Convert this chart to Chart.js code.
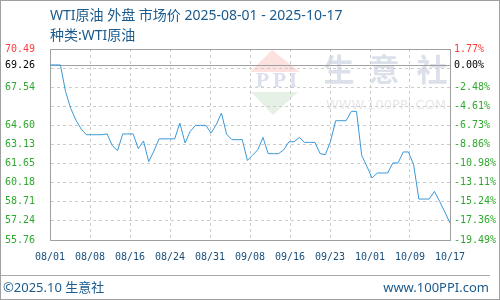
<!DOCTYPE html>
<html><head><meta charset="utf-8">
<script src="https://cdn.jsdelivr.net/npm/chart.js@4/dist/chart.umd.min.js"></script>
<style>
html,body{margin:0;padding:0;background:#fff;}
#wrap{position:relative;width:500px;height:300px;overflow:hidden;background:#fff;}
#c{position:absolute;left:0;top:0;}
#frame{position:absolute;left:0;top:0;width:500px;height:300px;box-sizing:border-box;border:1px solid #a0a0a0;pointer-events:none;}
.t{position:absolute;font-family:"Noto Sans","Noto Sans CJK SC",sans-serif;color:#1a5a8c;white-space:nowrap;line-height:16px;}
#sep{position:absolute;left:0;top:275px;width:490px;height:1px;background:#aaaaaa;}
</style></head>
<body><div id="wrap">
<canvas id="c" width="500" height="300"></canvas>
<div class="t" style="left:50px;top:7px;font-size:14px;">WTI原油 外盘 市场价 2025-08-01 - 2025-10-17</div>
<div class="t" style="left:50px;top:27px;font-size:14px;">种类:WTI原油</div>
<div id="sep"></div>
<div class="t" style="left:3px;top:279px;font-size:13px;">©2025.10 生意社</div>
<div class="t" style="right:11px;top:279px;font-size:13px;">www.100PPI.com</div>
<div id="frame"></div>
</div>
<script>
// ---- data ----
const xLabels = ['08/01','08/08','08/16','08/24','08/31','09/08','09/16','09/23','10/01','10/09','10/17'];
const xTickPos = [0, 7.7, 15.4, 23.1, 30.8, 38.5, 46.2, 53.9, 61.6, 69.3, 77];
// daily prices from 08/01 (day 0) to 10/17 (day 77)
const prices = [
  69.26, 69.26, 69.26, 67.20, 65.90, 65.00, 64.32, 63.88, 63.88, 63.88,
  63.88, 63.94, 63.03, 62.65, 63.94, 63.94, 63.94, 62.80, 63.40, 61.80,
  62.62, 63.56, 63.56, 63.56, 63.56, 64.78, 63.24, 64.14, 64.60, 64.60,
  64.60, 64.01, 64.65, 65.55, 63.92, 63.50, 63.50, 63.50, 61.90, 62.30,
  62.72, 63.67, 62.42, 62.42, 62.42, 62.72, 63.34, 63.34, 63.67, 63.29,
  63.29, 63.29, 62.42, 62.34, 63.37, 64.96, 64.96, 64.96, 65.68, 65.68,
  62.29, 61.44, 60.54, 60.93, 60.93, 60.93, 61.70, 61.70, 62.55, 62.55,
  61.57, 58.92, 58.92, 58.92, 59.51, 58.74, 57.92, 57.07
];
const baseline = 69.26;
const yMin = 55.76, yMax = 70.49;
const yGridValues = [70.49, 69.02, 67.54, 66.07, 64.60, 63.13, 61.65, 60.18, 58.71, 57.24, 55.76];
const leftLabels  = ['70.49', '', '67.54', '', '64.60', '63.13', '61.65', '60.18', '58.71', '57.24', '55.76'];
const rightLabels = ['1.77%', '', '-2.48%', '-4.61%', '-6.73%', '-8.86%', '-10.98%', '-13.11%', '-15.24%', '-17.36%', '-19.49%'];
const baseLabelLeft = '69.26', baseLabelRight = '0.00%';

const RED = '#ff3b3b', GREEN = '#2fa82f', BLACK = '#000000';
const near = (a, b) => Math.abs(a - b) < 1e-6;
const gridIndex = v => yGridValues.findIndex(g => near(g, v));
const yTicks = () => yGridValues.concat([baseline]).sort((a, b) => a - b).map(v => ({value: v}));
const labelColor = c => {
  const v = c.tick ? c.tick.value : null;
  if (v === null) return GREEN;
  if (near(v, baseline)) return BLACK;
  if (near(v, yMax)) return RED;
  return GREEN;
};
const gridColor = c => (c.tick && near(c.tick.value, baseline)) ? 'rgba(0,0,0,0)' : '#cccccc';
const monoFont = {family: 'DejaVu Sans Mono', size: 10};

const framePlugin = {
  id: 'framePlugin',
  beforeDraw(chart) {
    // faint watermark
    const ctx = chart.ctx;
    ctx.save();
    ctx.fillStyle = 'rgba(240,120,110,0.22)';
    ctx.beginPath(); ctx.moveTo(272, 50); ctx.lineTo(300, 72); ctx.lineTo(250, 72); ctx.closePath(); ctx.fill();
    ctx.fillStyle = 'rgba(90,170,90,0.16)';
    ctx.beginPath(); ctx.moveTo(251, 92); ctx.lineTo(298, 92); ctx.lineTo(273, 115); ctx.closePath(); ctx.fill();
    ctx.fillStyle = 'rgba(150,165,205,0.35)';
    ctx.font = 'bold 22px "Liberation Serif", serif';
    ctx.textAlign = 'center'; ctx.textBaseline = 'middle';
    ctx.fillText('P', 262.5, 81);
    ctx.fillText('P', 279.5, 81);
    ctx.fillText('I', 293, 81);
    ctx.fillStyle = 'rgba(195,203,222,0.6)';
    ctx.font = 'bold 31px "Noto Sans CJK SC", sans-serif';
    ctx.fillText('生', 339, 69);
    ctx.fillText('意', 384, 69);
    ctx.fillText('社', 432, 69);
    ctx.fillStyle = 'rgba(215,215,215,0.6)';
    ctx.font = '13px "DejaVu Sans", sans-serif';
    ctx.fillText('WWW.100PPI.COM', 386, 106);
    ctx.restore();
  },
  beforeDatasetsDraw(chart) {
    const {ctx, chartArea} = chart;
    const ys = chart.scales.y;
    ctx.save();
    ctx.strokeStyle = '#a0a0a0';
    ctx.lineWidth = 1;
    const yb = Math.round(ys.getPixelForValue(baseline)) + 0.5;
    const yt = Math.round(ys.getPixelForValue(yMax)) + 0.5;
    ctx.beginPath();
    ctx.moveTo(chartArea.left, yb); ctx.lineTo(chartArea.right, yb);
    ctx.moveTo(chartArea.left, yt); ctx.lineTo(chartArea.right, yt);
    ctx.stroke();
    ctx.restore();
  }
};

new Chart(document.getElementById('c'), {
  type: 'line',
  data: {
    datasets: [{
      data: prices.map((v, i) => ({x: i, y: v})),
      borderColor: '#3a98d8',
      borderWidth: 1,
      pointRadius: 0,
      tension: 0,
      fill: false
    }]
  },
  options: {
    responsive: false,
    animation: false,
    devicePixelRatio: 1,
    layout: {padding: {left: 5, top: 49, right: 0, bottom: 0}},
    plugins: {legend: {display: false}, tooltip: {enabled: false}, title: {display: false}},
    scales: {
      x: {
        type: 'linear', min: 0, max: 77,
        afterBuildTicks: s => { s.ticks = xTickPos.map(v => ({value: v})); },
        afterFit: s => { s.height = 60; },
        grid: {color: '#cccccc', drawTicks: false, lineWidth: 1},
        border: {display: true, color: '#a0a0a0', width: 1, dash: [3, 3]},
        ticks: {
          autoSkip: false, maxRotation: 0, padding: 11, font: monoFont, color: '#1a4f7a',
          callback: (v, i) => xLabels[i]
        }
      },
      y: {
        position: 'left', min: yMin, max: yMax,
        afterBuildTicks: s => { s.ticks = yTicks(); },
        afterFit: s => { s.width = 45; },
        grid: {color: gridColor, drawTicks: false, lineWidth: 1},
        border: {display: true, color: '#a0a0a0', width: 1, dash: [3, 3]},
        ticks: {
          autoSkip: false, crossAlign: 'far', padding: 4, font: monoFont, color: labelColor,
          callback: v => near(v, baseline) ? baseLabelLeft : (gridIndex(v) >= 0 ? leftLabels[gridIndex(v)] : '')
        }
      },
      y2: {
        position: 'right', min: yMin, max: yMax,
        afterBuildTicks: s => { s.ticks = yTicks(); },
        afterFit: s => { s.width = 50; },
        grid: {display: false, drawTicks: false},
        border: {display: true, color: '#a0a0a0', width: 1},
        ticks: {
          autoSkip: false, crossAlign: 'near', padding: 4, font: monoFont, color: labelColor,
          callback: v => near(v, baseline) ? baseLabelRight : (gridIndex(v) >= 0 ? rightLabels[gridIndex(v)] : '')
        }
      }
    }
  },
  plugins: [framePlugin]
});
</script>
</body></html>
